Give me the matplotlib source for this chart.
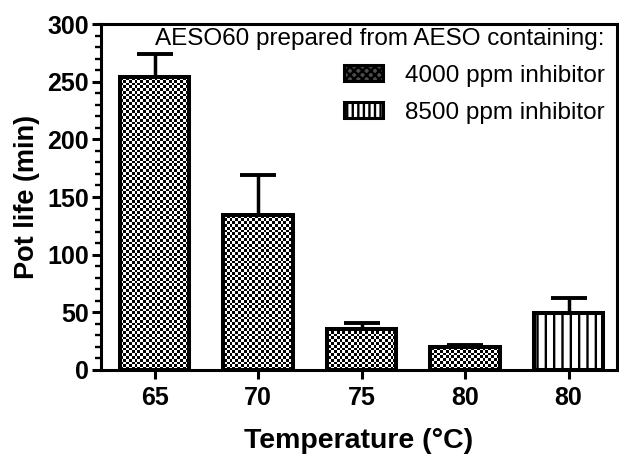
import numpy as np
import matplotlib
matplotlib.use("Agg")
import matplotlib.pyplot as plt
from matplotlib.patches import Patch
from matplotlib.ticker import MultipleLocator

plt.rcParams['font.family'] = ['Liberation Sans', 'DejaVu Sans']
plt.rcParams['hatch.linewidth'] = 1.7

categories = ["65", "70", "75", "80", "80"]
pot_life = [254, 134.5, 35.5, 20, 49]
err_upper = [20, 35, 5.5, 1.5, 13.5]
series = ["4000", "4000", "4000", "4000", "8500"]
legend_title = "AESO60 prepared from AESO containing:"
legend_labels = ["4000 ppm inhibitor", "8500 ppm inhibitor"]

fig = plt.figure(figsize=(6.19, 4.55), dpi=100)
ax = fig.add_axes([0.163, 0.187, 0.834, 0.760])

x = np.arange(len(categories))
width = 0.67
xlim = (-0.52, 4.47)
ylim = (0, 300)
ax.set_xlim(*xlim)
ax.set_ylim(*ylim)

lw = 2.2
blw = 2.9
# error bars (upper only)
ax.errorbar(x, pot_life, yerr=[np.zeros(len(x)), err_upper], fmt='none',
            ecolor='black', elinewidth=2.5, capsize=13, capthick=2.8, zorder=1)

# checkerboard texture
fig.canvas.draw()
bb = ax.get_window_extent()
cell = 2.8
nx = int(round(bb.width / cell))
ny = int(round(bb.height / cell))
checker = (np.add.outer(np.arange(ny), np.arange(nx)) % 2).astype(float)

for xi, v, s in zip(x, pot_life, series):
    if s == "4000":
        b = ax.bar(xi, v, width=width, facecolor='none', edgecolor='black',
                   linewidth=blw, zorder=3)[0]
        im = ax.imshow(checker, cmap='gray', vmin=0, vmax=1,
                       extent=[xlim[0], xlim[1], ylim[0], ylim[1]],
                       aspect='auto', interpolation='nearest', zorder=2)
        im.set_clip_path(b)
    else:
        ax.bar(xi, v, width=width, facecolor='white', edgecolor='black',
               linewidth=blw, hatch='||', zorder=3)

ax.set_xlim(*xlim)
ax.set_ylim(*ylim)

for sp in ax.spines.values():
    sp.set_linewidth(lw)

ax.yaxis.set_major_locator(MultipleLocator(50))
ax.yaxis.set_minor_locator(MultipleLocator(10))
ax.set_xticks(x)
ax.set_xticklabels(categories)
ax.tick_params(axis='both', which='major', length=6.5, width=lw, labelsize=18)
ax.tick_params(axis='x', which='major', pad=5)
ax.tick_params(axis='y', which='major', pad=2)
ax.tick_params(axis='y', which='minor', length=4.5, width=1.7)
for lab in ax.get_xticklabels() + ax.get_yticklabels():
    lab.set_fontweight('bold')

ax.set_ylabel("Pot life (min)", fontsize=19.5, fontweight='bold', labelpad=5)
ax.set_xlabel("Temperature (°C)", fontsize=20.5, fontweight='bold', labelpad=13)

handles = [Patch(facecolor='0.3', edgecolor='black', hatch='xxxx', linewidth=lw),
           Patch(facecolor='white', edgecolor='black', hatch='|||', linewidth=lw)]
leg = ax.legend(handles, legend_labels, title=legend_title, loc='upper right',
                bbox_to_anchor=(1.0, 1.025), frameon=False, fontsize=17.5,
                title_fontsize=17.5, alignment='right', handlelength=1.6,
                handleheight=0.65, handletextpad=0.9, labelspacing=0.62,
                borderaxespad=0.1)

fig.savefig("out.png", dpi=100)
